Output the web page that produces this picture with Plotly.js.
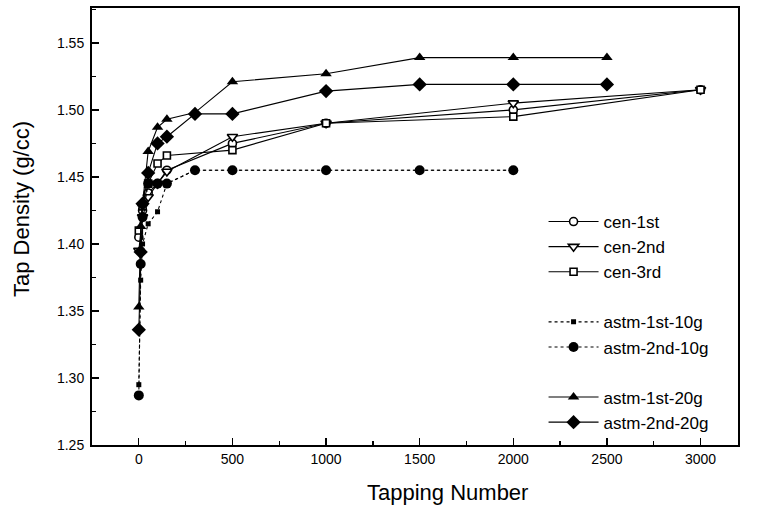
<!DOCTYPE html>
<html>
<head>
<meta charset="utf-8">
<script src="https://cdn.plot.ly/plotly-3.0.1.min.js"></script>
<style>html,body{margin:0;padding:0;background:#fff;}#chart{width:761px;height:507px;}</style>
</head>
<body>
<div id="chart"></div>
<script>
// ---- data ----
var cenX = [0, 20, 50, 100, 150, 500, 1000, 2000, 3000];
var cen1st = [1.405, 1.425, 1.438, 1.445, 1.455, 1.475, 1.490, 1.500, 1.515];
var cen2nd = [1.395, 1.420, 1.435, 1.445, 1.454, 1.480, 1.490, 1.505, 1.515];
var cen3rd = [1.410, 1.428, 1.445, 1.460, 1.466, 1.470, 1.490, 1.495, 1.515];

var astm10X = [0, 10, 20, 50, 100, 150, 300, 500, 1000, 1500, 2000];
var astm1st10g = [1.295, 1.373, 1.400, 1.415, 1.424, 1.445, 1.455, 1.455, 1.455, 1.455, 1.455];
var astm2nd10g = [1.287, 1.385, 1.420, 1.445, 1.445, 1.445, 1.455, 1.455, 1.455, 1.455, 1.455];

var astm20X = [0, 10, 20, 50, 100, 150, 300, 500, 1000, 1500, 2000, 2500];
var astm1st20g = [1.353, 1.413, 1.430, 1.469, 1.487, 1.493, 1.498, 1.521, 1.527, 1.539, 1.539, 1.539];
var astm2nd20g = [1.336, 1.394, 1.430, 1.453, 1.475, 1.480, 1.497, 1.497, 1.514, 1.519, 1.519, 1.519];

var seriesNames = ["cen-1st", "cen-2nd", "cen-3rd", "astm-1st-10g", "astm-2nd-10g", "astm-1st-20g", "astm-2nd-20g"];
var xTicks = [0, 500, 1000, 1500, 2000, 2500, 3000];
var yTicks = [1.25, 1.30, 1.35, 1.40, 1.45, 1.50, 1.55];
var xTitle = 'Tapping Number';
var yTitle = 'Tap Density (g/cc)';

function tr(x, y, name, group, symbol, size, fill, dash) {
  return {
    x: x, y: y, name: name, legendgroup: group, type: 'scatter', mode: 'lines+markers',
    line: {color: '#000', width: 1.1, dash: dash},
    marker: {symbol: symbol, size: size, color: fill, line: {color: '#000', width: fill === '#fff' ? 1.6 : 0}}
  };
}

var data = [
  tr(cenX, cen1st, seriesNames[0], 'cen', 'circle', 8, '#fff', 'solid'),
  tr(cenX, cen2nd, seriesNames[1], 'cen', 'triangle-down', 9, '#fff', 'solid'),
  tr(cenX, cen3rd, seriesNames[2], 'cen', 'square', 7, '#fff', 'solid'),
  tr(astm10X, astm1st10g, seriesNames[3], 'a10', 'square', 5, '#000', 'dot'),
  tr(astm10X, astm2nd10g, seriesNames[4], 'a10', 'circle', 10, '#000', 'dot'),
  tr(astm20X, astm1st20g, seriesNames[5], 'a20', 'triangle-up', 10, '#000', 'solid'),
  tr(astm20X, astm2nd20g, seriesNames[6], 'a20', 'diamond', 11, '#000', 'solid')
];

var fontFam = 'Arial, "Liberation Sans", sans-serif';
var W = 761, H = 507, mL = 92, mR = 23, mT = 8, mB = 62;
var layout = {
  width: W, height: H,
  margin: {l: mL, r: mR, t: mT, b: mB},
  paper_bgcolor: '#fff', plot_bgcolor: '#fff',
  font: {family: fontFam, color: '#000'},
  showlegend: true,
  legend: {
    x: 0.699, y: 0.5515, xanchor: 'left', yanchor: 'top',
    bgcolor: 'rgba(0,0,0,0)', borderwidth: 0,
    font: {size: 17, family: fontFam, color: '#000'},
    traceorder: 'grouped', tracegroupgap: 25, itemwidth: 50
  },
  xaxis: {
    range: [-250, 3200], tickvals: xTicks, ticktext: xTicks.map(String),
    ticks: 'inside', ticklen: 7, tickwidth: 1.3, tickcolor: '#000',
    minor: {ticks: 'inside', ticklen: 4, dtick: 250, tick0: 0, tickcolor: '#000'},
    showline: true, mirror: true, linecolor: '#000', linewidth: 2,
    showgrid: false, zeroline: false,
    tickfont: {size: 14, family: fontFam, color: '#000'}
  },
  yaxis: {
    range: [1.25, 1.576], tickvals: yTicks, ticktext: yTicks.map(function(v){return v.toFixed(2);}),
    ticks: 'inside', ticklen: 7, tickwidth: 1.3, tickcolor: '#000',
    minor: {ticks: 'inside', ticklen: 4, dtick: 0.025, tick0: 1.25, tickcolor: '#000'},
    showline: true, mirror: true, linecolor: '#000', linewidth: 2,
    showgrid: false, zeroline: false, ticklabelstandoff: 3,
    tickfont: {size: 14, family: fontFam, color: '#000'}
  },
  annotations: [
    {text: xTitle, xref: 'paper', yref: 'paper', showarrow: false,
     x: (447 - mL) / (W - mL - mR), y: -(492 - (H - mB)) / (H - mT - mB),
     xanchor: 'center', yanchor: 'middle', font: {size: 22, family: fontFam, color: '#000'}},
    {text: yTitle, xref: 'paper', yref: 'paper', showarrow: false, textangle: -90,
     x: -(mL - 22) / (W - mL - mR), y: 1 - (209 - mT) / (H - mT - mB),
     xanchor: 'center', yanchor: 'middle', font: {size: 22, family: fontFam, color: '#000'}}
  ]
};

Plotly.newPlot('chart', data, layout, {displayModeBar: false, staticPlot: true});
</script>
</body>
</html>
